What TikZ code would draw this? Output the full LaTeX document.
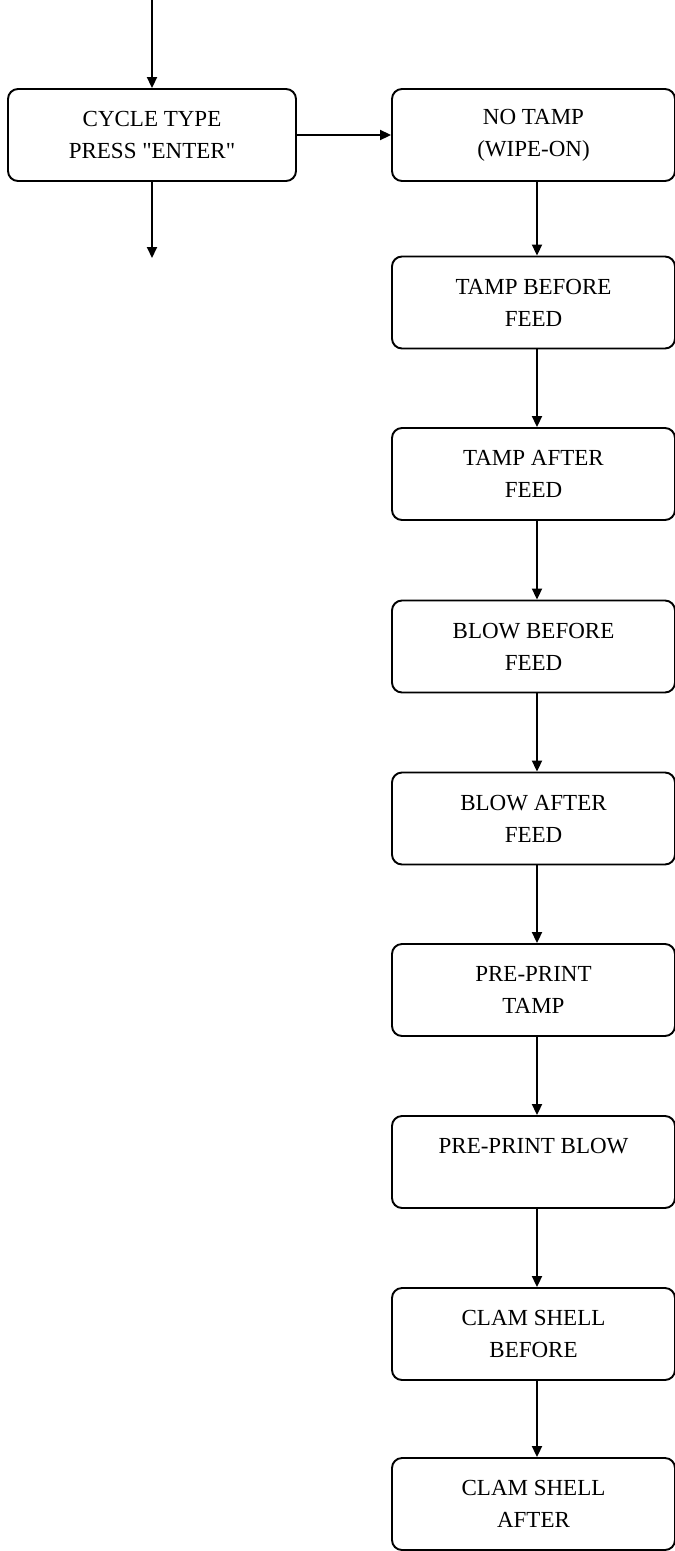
\documentclass[tikz,border=0pt]{standalone}
\usepackage{fontspec}
\setmainfont{Liberation Serif}[Ligatures=TeXOff]
\usetikzlibrary{arrows.meta}
\begin{document}
\begin{tikzpicture}[x=1pt,y=-1pt,
  box/.style={draw,line width=1.9pt,rounded corners=10pt,minimum height=92pt,
    align=center,inner sep=0pt,font=\fontsize{23}{32}\selectfont},
  lbox/.style={box,minimum width=288pt},
  rbox/.style={box,minimum width=283pt},
  arr/.style={line width=1.9pt,-{Triangle[length=11pt,width=10pt]}}]
\useasboundingbox (0,0) rectangle (675,1551);
\coordinate (top) at (152,0);
\node[lbox] (a) at (152,135) {CYCLE TYPE\\PRESS "ENTER"};
\coordinate (bot) at (152,258);
\node[rbox] (b) at (533.5,135) {NO TAMP\\(WIPE-ON)};
\node[rbox] (c) at (533.5,302.5) {TAMP BEFORE\\FEED};
\node[rbox] (d) at (533.5,474) {TAMP AFTER\\FEED};
\node[rbox] (e) at (533.5,646.5) {BLOW BEFORE\\FEED};
\node[rbox] (f) at (533.5,818.5) {BLOW AFTER\\FEED};
\node[rbox] (g) at (533.5,990) {PRE-PRINT\\TAMP};
\node[rbox] (h) at (533.5,1162) {PRE-PRINT BLOW\\\mbox{}};
\node[rbox] (i) at (533.5,1334) {CLAM SHELL\\BEFORE};
\node[rbox] (j) at (533.5,1504) {CLAM SHELL\\AFTER};
\draw[arr] (top) -- (a.north);
\draw[arr] (a.south) -- (bot);
\draw[arr] (a.east) -- (b.west);
\foreach \p/\q in {b/c,c/d,d/e,e/f,f/g,g/h,h/i,i/j}
  \draw[arr] ([xshift=3.5pt]\p.south) -- ([xshift=3.5pt]\q.north);
\end{tikzpicture}
\end{document}
